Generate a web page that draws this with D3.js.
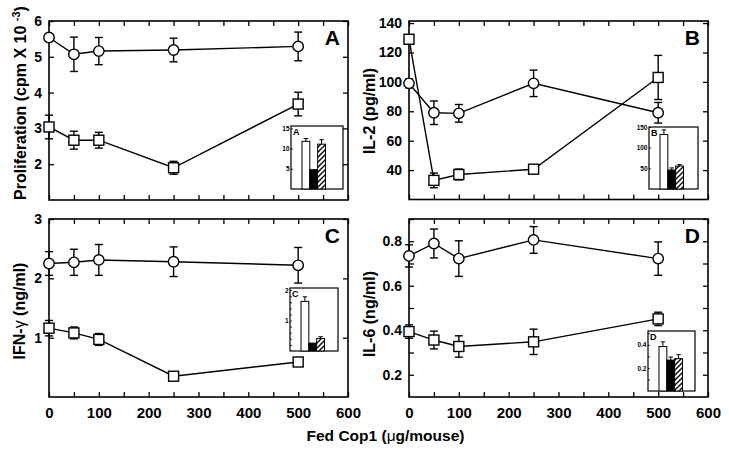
<!DOCTYPE html>
<html><head><meta charset="utf-8">
<script src="https://cdn.jsdelivr.net/npm/d3@7/dist/d3.min.js"></script>
<style>
body{margin:0;background:#fff;}
svg text{font-family:"Liberation Sans",Arial,Helvetica,sans-serif;}
</style></head>
<body><svg id="c" width="729" height="459"></svg>
<script>
// ---- data ----
const doses = [0, 50, 100, 250, 500];
const xMajorTicks = [0, 100, 200, 300, 400, 500, 600];

const profCircle = [5.54, 5.07, 5.16, 5.19, 5.29];
const profCircleErr = [0.08, 0.48, 0.38, 0.33, 0.40];
const profSquare = [3.04, 2.67, 2.67, 1.90, 3.68];
const profSquareErr = [0.33, 0.25, 0.22, 0.18, 0.33];

const il2Circle = [99, 79, 78.6, 99, 79];
const il2CircleErr = [3, 8, 6, 9, 7];
const il2Square = [129, 33, 37, 40.6, 103];
const il2SquareErr = [3, 5, 3.7, 1, 15];

const ifnCircle = [2.25, 2.27, 2.31, 2.28, 2.22];
const ifnCircleErr = [0.2, 0.22, 0.26, 0.25, 0.3];
const ifnSquare = [1.16, 1.08, 0.97, 0.35, 0.59];
const ifnSquareErr = [0.13, 0.1, 0.1, 0.03, 0.03];

const il6Circle = [0.734, 0.79, 0.722, 0.806, 0.722];
const il6CircleErr = [0.05, 0.065, 0.08, 0.06, 0.075];
const il6Square = [0.394, 0.356, 0.327, 0.348, 0.451];
const il6SquareErr = [0.03, 0.04, 0.048, 0.057, 0.03];

const insetGroups = ["open", "filled", "hatched"];
const insetA = [11.8, 4.8, 11.1], insetAErr = [0.7, 0, 1.1];
const insetB = [132, 46, 55.6], insetBErr = [11, 5, 3.4];
const insetC = [1.63, 0.26, 0.41], insetCErr = [0.15, 0, 0.06];
const insetD = [0.385, 0.268, 0.28], insetDErr = [0.041, 0.026, 0.035];

const ticksA = [2, 3, 4, 5, 6];
const ticksB = [40, 60, 80, 100, 120, 140];
const ticksC = [1, 2, 3];
const ticksD = [0.2, 0.3, 0.4, 0.5, 0.6, 0.7, 0.8, 0.9];
const ticksDLabeled = [0.2, 0.4, 0.6, 0.8];

// ---- drawing ----
const svg = d3.select("#c");
const defs = svg.append("defs");
const pat = defs.append("pattern").attr("id","hatch").attr("patternUnits","userSpaceOnUse")
  .attr("width",5).attr("height",5);
pat.append("rect").attr("width",5).attr("height",5).attr("fill","#fff");
pat.append("path").attr("d","M-1,1 l2,-2 M0,5 l5,-5 M4,6 l2,-2").attr("stroke","#000").attr("stroke-width",1.3);

function panel(cfg){
  const g = svg.append("g");
  const x = d3.scaleLinear().domain([0,600]).range([cfg.l, cfg.r]);
  const y = d3.scaleLinear().domain(cfg.yDom).range([cfg.b, cfg.t]);
  const allX = d3.range(0, 601, 50);

  // bottom axis
  const bAx = d3.axisBottom(x).tickValues(allX).tickSizeInner(-5).tickSizeOuter(0).tickPadding(10)
    .tickFormat(d => cfg.xLabels && xMajorTicks.includes(d) ? d : "");
  const gb = g.append("g").attr("transform",`translate(0,${cfg.b})`).call(bAx);
  // top axis
  const tAx = d3.axisTop(x).tickValues(allX).tickSizeInner(-5).tickSizeOuter(0).tickFormat("");
  const gt = g.append("g").attr("transform",`translate(0,${cfg.t})`).call(tAx);
  // left axis
  const lAx = d3.axisLeft(y).tickValues(cfg.yTicks).tickSizeInner(-5).tickSizeOuter(0).tickPadding(7)
    .tickFormat(d => (cfg.yLabeled ? cfg.yLabeled.some(v=>Math.abs(v-d)<1e-9) : true) ? cfg.fmt(d) : "");
  const gl = g.append("g").attr("transform",`translate(${cfg.l},0)`).call(lAx);
  const rAx = d3.axisRight(y).tickValues(cfg.yTicks).tickSizeInner(-5).tickSizeOuter(0).tickFormat("");
  const gr = g.append("g").attr("transform",`translate(${cfg.r},0)`).call(rAx);
  [gb,gt,gl,gr].forEach(a=>{
    a.select(".domain").remove();
    a.selectAll("line").attr("stroke","#000").attr("stroke-width",1.3);
    a.selectAll("text").attr("font-weight","bold").attr("fill","#000");
  });
  gb.selectAll("text").attr("font-size",15);
  gl.selectAll("text").attr("font-size",14);

  g.append("rect").attr("x",cfg.l).attr("y",cfg.t).attr("width",cfg.r-cfg.l).attr("height",cfg.b-cfg.t)
    .attr("fill","none").attr("stroke","#000").attr("stroke-width",1.6);

  // inset
  const ins = cfg.inset;
  const ig = g.append("g");
  ig.append("rect").attr("x",ins.l).attr("y",ins.t).attr("width",ins.r-ins.l).attr("height",ins.b-ins.t)
    .attr("fill","#fff").attr("stroke","#000").attr("stroke-width",1.2);
  const iy = d3.scaleLinear().domain(ins.dom).range([ins.b, ins.t]);
  const ix = d3.scaleBand().domain(insetGroups).range([ins.l+11, ins.l+34.5]).padding(0);
  const iAx = d3.axisLeft(iy).tickValues(ins.minor || ins.ticks).tickSizeInner(-2).tickSizeOuter(0).tickPadding(1.5)
    .tickFormat(d => ins.ticks.some(v=>Math.abs(v-d)<1e-9) ? ins.fmt(d) : "");
  const gi = ig.append("g").attr("transform",`translate(${ins.l},0)`).call(iAx);
  gi.select(".domain").remove();
  gi.selectAll("line").attr("stroke","#000").attr("stroke-width",0.8);
  gi.selectAll("text").attr("font-size",6.5).attr("font-weight","bold").attr("fill","#000");
  ins.vals.forEach((v,i)=>{
    const cx = ix(insetGroups[i]) + ix.bandwidth()/2;
    if (ins.err[i] > 0){
      ig.append("line").attr("x1",cx).attr("x2",cx).attr("y1",iy(v)).attr("y2",iy(v+ins.err[i]))
        .attr("stroke","#000").attr("stroke-width",1);
      ig.append("line").attr("x1",cx-2.2).attr("x2",cx+2.2).attr("y1",iy(v+ins.err[i])).attr("y2",iy(v+ins.err[i]))
        .attr("stroke","#000").attr("stroke-width",1);
    }
  });
  ig.selectAll("rect.bar").data(ins.vals).enter().append("rect").attr("class","bar")
    .attr("x",(d,i)=>ix(insetGroups[i])).attr("width",ix.bandwidth())
    .attr("y",d=>iy(d)).attr("height",d=>ins.b-iy(d))
    .attr("fill",(d,i)=>["#fff","#000","url(#hatch)"][i]).attr("stroke","#000").attr("stroke-width",1);
  ig.append("text").attr("x",ins.l+2).attr("y",ins.t+8.5).attr("font-size",9).attr("font-weight","bold").text(cfg.letter);

  // error bars
  function errs(vals, err){
    vals.forEach((v,i)=>{
      const cx = x(doses[i]);
      g.append("line").attr("x1",cx).attr("x2",cx).attr("y1",y(v-err[i])).attr("y2",y(v+err[i]))
        .attr("stroke","#000").attr("stroke-width",1.4);
      [v-err[i], v+err[i]].forEach(e=>{
        g.append("line").attr("x1",cx-4).attr("x2",cx+4).attr("y1",y(e)).attr("y2",y(e))
          .attr("stroke","#000").attr("stroke-width",1.4);
      });
    });
  }
  errs(cfg.circ, cfg.circErr);
  errs(cfg.sq, cfg.sqErr);
  const line = d3.line().x((d,i)=>x(doses[i])).y(d=>y(d));
  g.append("path").attr("d",line(cfg.circ)).attr("fill","none").attr("stroke","#000").attr("stroke-width",1.4);
  g.append("path").attr("d",line(cfg.sq)).attr("fill","none").attr("stroke","#000").attr("stroke-width",1.4);
  g.selectAll("circle.m").data(cfg.circ).enter().append("circle").attr("class","m")
    .attr("cx",(d,i)=>x(doses[i])).attr("cy",d=>y(d)).attr("r",5.2)
    .attr("fill","#fff").attr("stroke","#000").attr("stroke-width",1.4);
  g.selectAll("rect.m").data(cfg.sq).enter().append("rect").attr("class","m")
    .attr("x",(d,i)=>x(doses[i])-5).attr("y",d=>y(d)-5).attr("width",10).attr("height",10)
    .attr("fill","#fff").attr("stroke","#000").attr("stroke-width",1.4);

  // panel letter
  g.append("text").attr("x",cfg.r-8).attr("y",cfg.t+24).attr("text-anchor","end")
    .attr("font-size",21).attr("font-weight","bold").text(cfg.letter);

  // y title
  const yt = g.append("text").attr("transform",`translate(${cfg.titleX},${cfg.titleY}) rotate(-90)`)
    .attr("text-anchor","middle").attr("font-size",16).attr("font-weight","bold");
  cfg.title(yt);
}

panel({l:49,r:348,t:21,b:200,yDom:[1,6],yTicks:ticksA,fmt:d3.format("d"),xLabels:false,
  circ:profCircle,circErr:profCircleErr,sq:profSquare,sqErr:profSquareErr,letter:"A",
  titleX:26,titleY:103,
  title:t=>{t.append("tspan").text("Proliferation (cpm X 10 ");
    t.append("tspan").attr("font-size",11).attr("dy",-6).text("-3");
    t.append("tspan").attr("dy",6).text(")");},
  inset:{l:291,r:343,t:126,b:189,dom:[0,15.6],ticks:[5,10,15],fmt:d3.format("d"),
    vals:insetA,err:insetAErr}});

panel({l:409,r:708,t:21,b:199.5,yDom:[20,141.4],yTicks:ticksB,fmt:d3.format("d"),xLabels:false,
  circ:il2Circle,circErr:il2CircleErr,sq:il2Square,sqErr:il2SquareErr,letter:"B",
  titleX:375,titleY:111,
  title:t=>{t.text("IL-2 (pg/ml)");},
  inset:{l:649,r:698,t:127,b:189,dom:[0,150],ticks:[50,100,150],fmt:d3.format("d"),
    vals:insetB,err:insetBErr}});

panel({l:49,r:348,t:219,b:397,yDom:[0,3],yTicks:ticksC,fmt:d3.format("d"),xLabels:true,
  circ:ifnCircle,circErr:ifnCircleErr,sq:ifnSquare,sqErr:ifnSquareErr,letter:"C",
  titleX:25,titleY:311,
  title:t=>{t.append("tspan").text("IFN-");
    t.append("tspan").attr("font-weight","normal").text("γ");
    t.append("tspan").text(" (ng/ml)");},
  inset:{l:290,r:338,t:288,b:351,dom:[0,2.07],ticks:[1,2],minor:[0.2,0.4,0.6,0.8,1,1.2,1.4,1.6,1.8,2],fmt:d3.format("d"),
    vals:insetC,err:insetCErr}});

panel({l:409,r:708,t:219,b:397,yDom:[0.1,0.9],yTicks:ticksD,yLabeled:ticksDLabeled,fmt:d3.format(".1f"),xLabels:true,
  circ:il6Circle,circErr:il6CircleErr,sq:il6Square,sqErr:il6SquareErr,letter:"D",
  titleX:375,titleY:314,
  title:t=>{t.text("IL-6 (ng/ml)");},
  inset:{l:648,r:695,t:331,b:391,dom:[0,0.52],ticks:[0.2,0.4],minor:[0.1,0.2,0.3,0.4,0.5],fmt:d3.format(".1f"),
    vals:insetD,err:insetDErr}});

// x title
const xt = svg.append("text").attr("x",385.5).attr("y",441).attr("text-anchor","middle")
  .attr("font-size",15.5).attr("font-weight","bold");
xt.append("tspan").text("Fed Cop1 (");
xt.append("tspan").attr("font-weight","normal").text("μ");
xt.append("tspan").text("g/mouse)");
</script></body></html>
